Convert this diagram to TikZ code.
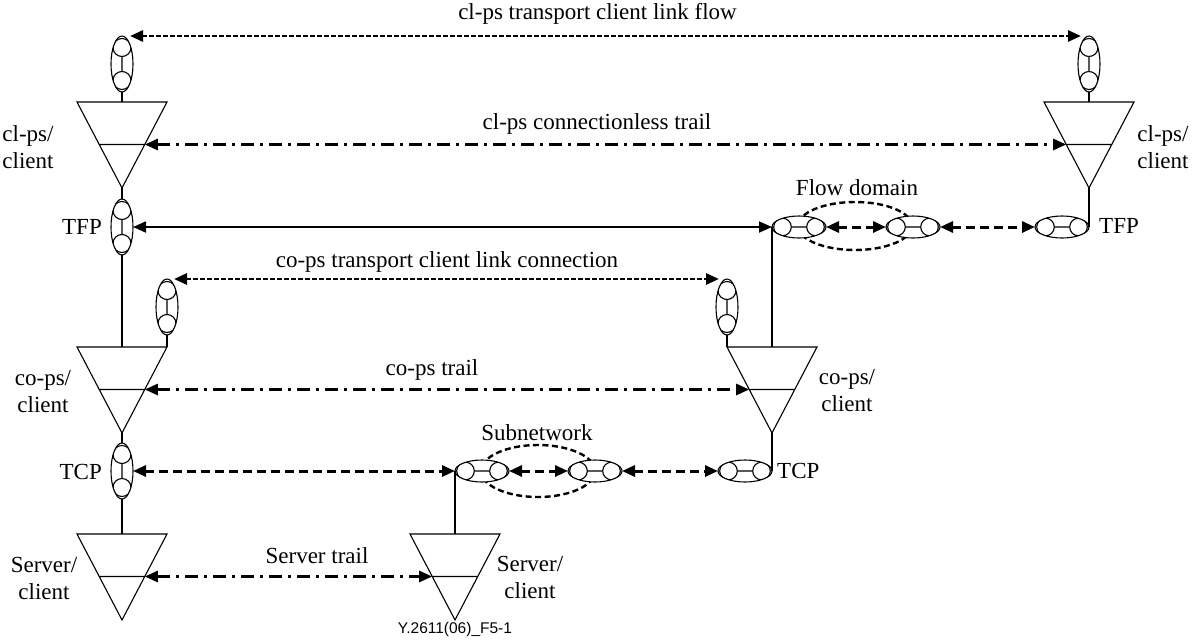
\documentclass[tikz,border=0pt]{standalone}
\usepackage{fontspec}
\setmainfont{Liberation Serif}
\newfontfamily\capfont{Liberation Sans}
\usetikzlibrary{arrows.meta,shapes.geometric}
\tikzset{
  shp/.style={line width=1.1pt},
  vport/.style={ellipse, draw, line width=1.1pt, fill=white, inner sep=0pt, outer sep=0pt,
    minimum width=22pt, minimum height=56pt,
    path picture={
      \draw[line width=1.1pt]
        ([yshift=16.5pt]path picture bounding box.center) circle (9pt)
        ([yshift=-16.5pt]path picture bounding box.center) circle (9pt)
        ([yshift=7.5pt]path picture bounding box.center) -- ([yshift=-7.5pt]path picture bounding box.center);}},
  hport/.style={ellipse, draw, line width=1.1pt, fill=white, inner sep=0pt, outer sep=0pt,
    minimum width=54pt, minimum height=22pt,
    path picture={
      \draw[line width=1.1pt]
        ([xshift=16.5pt]path picture bounding box.center) circle (8.8pt)
        ([xshift=-16.5pt]path picture bounding box.center) circle (8.8pt)
        ([xshift=7.7pt]path picture bounding box.center) -- ([xshift=-7.7pt]path picture bounding box.center);}},
  dom/.style={ellipse, draw, line width=2.4pt, dash pattern=on 6pt off 3.5pt, inner sep=0pt},
  lbl/.style={font=\fontsize{23}{27}\selectfont, inner sep=0pt, align=center},
  arr/.style={{Triangle[length=13pt,width=11pt]}-{Triangle[length=13pt,width=11pt]}},
  dotline/.style={arr, line width=2.7pt, dash pattern=on 4.5pt off 2.5pt},
  dashline/.style={arr, line width=3pt, dash pattern=on 9pt off 5pt},
  ddline/.style={arr, line width=2.6pt, dash pattern=on 13pt off 6pt on 3pt off 6pt},
  solline/.style={arr, line width=1.8pt},
}
\newcommand\tritri[3]{%
  \coordinate (#1-t) at (#2,#3);
  \coordinate (#1-tl) at (#2-45,#3);
  \coordinate (#1-tr) at (#2+45,#3);
  \coordinate (#1-a) at (#2,#3+86);
  \coordinate (#1-ml) at (#2-22.8,#3+42.5);
  \coordinate (#1-mr) at (#2+22.8,#3+42.5);
  \draw[shp] (#1-tl) -- (#1-tr) -- (#1-a) -- cycle (#1-ml) -- (#1-mr);
}
\begin{document}
\begin{tikzpicture}[x=1pt,y=-1pt]
\useasboundingbox (0,0) rectangle (1203,641);

% triangles
\tritri{ta}{122}{102}
\tritri{tb}{1089}{102}
\tritri{tc}{122}{347}
\tritri{td}{772}{347}
\tritri{te}{122}{534}
\tritri{tf}{455}{534}

% domain ellipses
\node[dom, minimum width=114pt, minimum height=48pt] (fd) at (855,226) {};
\node[dom, minimum width=114pt, minimum height=52pt] (sn) at (538,471) {};

% vertical ports
\node[vport] (p1) at (122,64) {};
\node[vport] (p6) at (1089,64) {};
\node[vport] (p2) at (122,227) {};
\node[vport] (p3) at (167,307) {};
\node[vport] (p5) at (727,307) {};
\node[vport] (p4) at (122,471) {};

% horizontal ports
\node[hport] (h4) at (799,227) {};
\node[hport] (h5) at (913,227) {};
\node[hport] (h6) at (1062,227) {};
\node[hport] (h1) at (482,471) {};
\node[hport] (h2) at (595,471) {};
\node[hport] (h3) at (745,471) {};

% vertical connections
\draw[shp] (p1.south) -- (ta-t);
\draw[shp] (ta-a) -- (p2.north);
\draw[shp] (p2.south) -- (tc-t);
\draw[shp] (p3.south) -- (tc-tr);
\draw[shp] (tc-a) -- (p4.north);
\draw[shp] (p4.south) -- (te-t);
\draw[shp] (h1.west) -- (tf-t);
\draw[shp] (p6.south) -- (tb-t);
\draw[shp] (tb-a) -- (h6.east);
\draw[shp] (h4.west) -- (td-t);
\draw[shp] (p5.south) -- (td-tl);
\draw[shp] (td-a) -- (h3.east);

% horizontal arrows
\draw[dotline] ([xshift=8pt]p1.north) -- ([xshift=-8pt]p6.north);
\draw[ddline] (ta-mr) -- (tb-ml);
\draw[solline] (p2.east) -- (h4.west);
\draw[dashline] (h4.east) -- (h5.west);
\draw[dashline] (h5.east) -- (h6.west);
\draw[dotline] ([xshift=7pt]p3.north) -- ([xshift=-8pt]p5.north);
\draw[ddline] (tc-mr) -- (td-ml);
\draw[dashline] (p4.east) -- (h1.west);
\draw[dashline] (h1.east) -- (h2.west);
\draw[dashline] (h2.east) -- (h3.west);
\draw[ddline] (te-mr) -- (tf-ml);

% labels
\node[lbl] (l1) at (597.5,14) {cl-ps transport client link flow};
\node[lbl] (l2) at (597,124) {cl-ps connectionless trail};
\node[lbl] (l3) at (857,188) {Flow domain};
\node[lbl] (l4) at (447,262) {co-ps transport client link connection};
\node[lbl] (l5) at (432,370) {co-ps trail};
\node[lbl] (l6) at (537,433) {Subnetwork};
\node[lbl] (l7) at (317,556) {Server trail};

\node[lbl] (n1) at (28,147) {cl-ps/\\client};
\node[lbl] (n2) at (1163,147) {cl-ps/\\client};
\node[lbl] (n3) at (43,392) {co-ps/\\client};
\node[lbl] (n4) at (847,391) {co-ps/\\client};
\node[lbl] (n5) at (44,578) {Server/\\client};
\node[lbl] (n6) at (530,577) {Server/\\client};

\node[lbl, anchor=east] (tfp1) at (102,227) {TFP};
\node[lbl, anchor=west] (tfp2) at (1099,226) {TFP};
\node[lbl, anchor=east] (tcp1) at (102,472) {TCP};
\node[lbl, anchor=west] (tcp2) at (777,471) {TCP};

\node[font=\capfont\fontsize{15.5}{18}\selectfont, inner sep=0pt] (cap) at (455,629) {Y.2611(06)\_F5-1};
\end{tikzpicture}
\end{document}
